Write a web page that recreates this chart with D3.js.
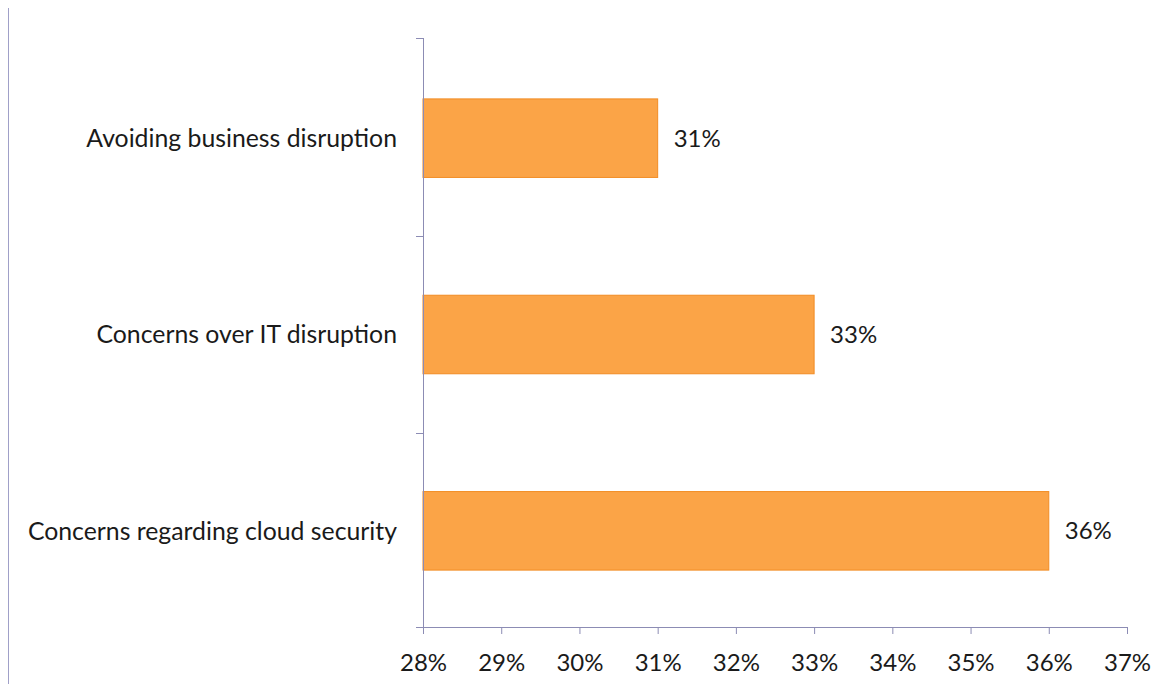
<!DOCTYPE html>
<html>
<head>
<meta charset="utf-8">
<script src="https://cdn.jsdelivr.net/npm/d3@7"></script>
<style>
  html, body { margin: 0; padding: 0; background: #fff; }
  svg { display: block; }
  text { font-family: Lato, "Open Sans", sans-serif; fill: #1a1a1a; }
</style>
</head>
<body>
<svg id="chart" width="1171" height="691"></svg>
<script>
// Survey reasons, listed top to bottom
const categories = [
  "Avoiding business disruption",
  "Concerns over IT disruption",
  "Concerns regarding cloud security"
];
const values = [0.31, 0.33, 0.36];
const xTicks = [0.28, 0.29, 0.30, 0.31, 0.32, 0.33, 0.34, 0.35, 0.36, 0.37];

const svg = d3.select("#chart");
const axisColor = "#8c8cb4";
const fontSize = 24;

const margin = { left: 423, right: 44, top: 38, bottom: 64 };
const W = 1171, H = 691;

const x = d3.scaleLinear()
  .domain([0.28, 0.37])
  .range([margin.left, W - margin.right]);

const y = d3.scaleBand()
  .domain(categories)
  .range([margin.top + 2, H - margin.bottom + 2])
  .paddingInner(0.6)
  .paddingOuter(0.3);

// thin frame line on the far left
svg.append("line")
  .attr("x1", 8.5).attr("x2", 8.5)
  .attr("y1", 8).attr("y2", 684)
  .attr("stroke", "#a0a0c8").attr("stroke-width", 1);

// bars
svg.append("g").selectAll("rect")
  .data(categories)
  .join("rect")
  .attr("x", x(0.28))
  .attr("y", d => y(d))
  .attr("width", (d, i) => x(values[i]) - x(0.28))
  .attr("height", y.bandwidth())
  .attr("fill", "#fba447")
  .attr("stroke", "#f28c23")
  .attr("stroke-width", 1);

// value labels
svg.append("g").selectAll("text")
  .data(categories)
  .join("text")
  .attr("x", (d, i) => x(values[i]) + 16)
  .attr("y", d => y(d) + y.bandwidth() / 2)
  .attr("dy", "0.35em")
  .attr("font-size", fontSize)
  .text((d, i) => d3.format(".0%")(values[i]));

// x axis
const xAxis = svg.append("g")
  .attr("transform", `translate(0,${H - margin.bottom})`)
  .call(d3.axisBottom(x).tickValues(xTicks).tickFormat(d3.format(".0%")).tickSize(7).tickSizeOuter(0));
xAxis.select(".domain").attr("stroke", axisColor);
xAxis.selectAll(".tick line").attr("stroke", axisColor);
xAxis.selectAll(".tick text")
  .attr("font-size", fontSize).attr("fill", "#1a1a1a")
  .attr("font-family", "Lato, 'Open Sans', sans-serif")
  .attr("y", 0)
  .attr("dy", "1.83em");

// y axis: category separators as ticks, labels centered on bands
const yLine = svg.append("g");
yLine.append("line")
  .attr("x1", margin.left + 0.5).attr("x2", margin.left + 0.5)
  .attr("y1", margin.top).attr("y2", H - margin.bottom + 7)
  .attr("stroke", axisColor);
const bounds = [margin.top, ...categories.slice(1).map(c => y(c) - y.step() * y.paddingInner() / 2)];
yLine.selectAll("line.sep")
  .data(bounds)
  .join("line")
  .attr("class", "sep")
  .attr("x1", margin.left - 7).attr("x2", margin.left)
  .attr("y1", d => Math.round(d) + 0.5).attr("y2", d => Math.round(d) + 0.5)
  .attr("stroke", axisColor);
yLine.append("line")
  .attr("x1", margin.left - 7).attr("x2", margin.left)
  .attr("y1", H - margin.bottom + 0.5).attr("y2", H - margin.bottom + 0.5)
  .attr("stroke", axisColor);

svg.append("g").selectAll("text")
  .data(categories)
  .join("text")
  .attr("x", margin.left - 26)
  .attr("y", d => y(d) + y.bandwidth() / 2)
  .attr("dy", "0.35em")
  .attr("text-anchor", "end")
  .attr("font-size", 24.8)
  .text(d => d);
</script>
</body>
</html>
